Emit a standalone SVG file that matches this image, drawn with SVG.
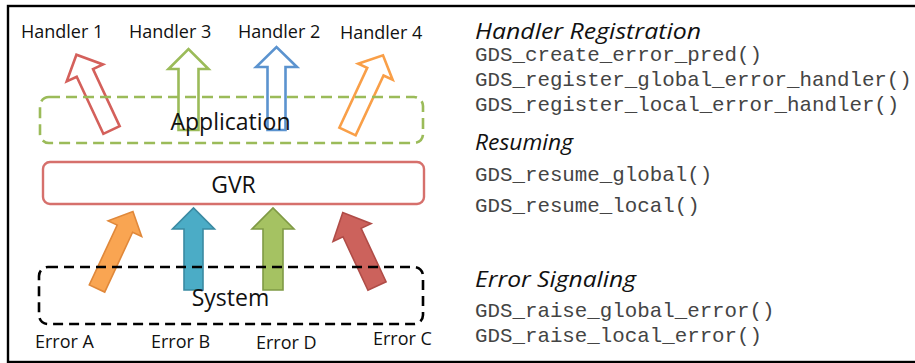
<svg xmlns="http://www.w3.org/2000/svg" width="915" height="363" viewBox="0 0 915 363">
<style>
.lbl{font-family:"Open Sans","Noto Sans",sans-serif;font-size:18px;fill:#111}
.big{font-family:"Open Sans","Noto Sans",sans-serif;font-size:23px;fill:#111;text-anchor:middle}
.hd{font-family:"Open Sans","Noto Sans",sans-serif;font-style:italic;font-size:21.5px;fill:#111}
.mono{font-family:"Liberation Mono","DejaVu Sans Mono",monospace;font-size:20.8px;fill:#444}
.out{fill:none;stroke-width:2.6;stroke-linejoin:miter}
.fil{stroke-width:1.6;stroke-linejoin:miter}
</style>
<rect x="8" y="6" width="920" height="356" fill="#fff" stroke="#000" stroke-width="2.4"/>
<g id="connectors">
  <path class="out" stroke="#d4605b" transform="translate(111.5,130) rotate(-25)" d="M -9,0 V -63 H -20 L 0,-83 L 20,-63 H 9 V 0 Z"/>
  <path class="out" stroke="#9bbb59" transform="translate(188.5,130)" d="M -10,0 V -61 H -20 L 0,-81 L 20,-61 H 10 V 0 Z"/>
  <path class="out" stroke="#5b93cf" transform="translate(276.5,130)" d="M -9,0 V -63 H -20.5 L 0,-83 L 20.5,-63 H 9 V 0 Z"/>
  <path class="out" stroke="#f99f48" transform="translate(347.5,131.5) rotate(25)" d="M -9,0 V -66 H -19 L 0,-84 L 19,-66 H 9 V 0 Z"/>
  <path class="fil" fill="#f9a552" stroke="#e0883a" transform="translate(97,288.5) rotate(25)" d="M -8.5,0 V -66 H -18.5 L 0,-85 L 18.5,-66 H 8.5 V 0 Z"/>
  <path class="fil" fill="#4bacc6" stroke="#3a8aa2" transform="translate(193.5,290)" d="M -9.5,0 V -61 H -21 L 0,-82 L 21,-61 H 9.5 V 0 Z"/>
  <path class="fil" fill="#a5c262" stroke="#7f9a45" transform="translate(273,290)" d="M -10,0 V -61 H -21 L 0,-82 L 21,-61 H 10 V 0 Z"/>
  <path class="fil" fill="#cc625c" stroke="#b04c47" transform="translate(377,286) rotate(-25)" d="M -10,0 V -59 H -21 L 0,-81 L 21,-59 H 10 V 0 Z"/>
</g>
<g id="application">
  <rect x="40" y="97" width="383" height="46" rx="9" fill="none" stroke="#9bbb59" stroke-width="2.6" stroke-dasharray="11 6"/>
  <text class="big" x="230.5" y="130" font-size="23.5">Application</text>
</g>
<g id="gvr">
  <rect x="43" y="162" width="381" height="42" rx="7" fill="none" stroke="#d6706c" stroke-width="2.4"/>
  <text class="big" x="233.5" y="193">GVR</text>
</g>
<g id="system">
  <rect x="39" y="267" width="384" height="57" rx="9" fill="none" stroke="#000" stroke-width="2.6" stroke-dasharray="10 6"/>
  <text class="big" x="230.5" y="306">System</text>
</g>
<g id="handler1"><text class="lbl" x="21" y="38">Handler 1</text></g>
<g id="handler3"><text class="lbl" x="129" y="38">Handler 3</text></g>
<g id="handler2"><text class="lbl" x="238" y="38">Handler 2</text></g>
<g id="handler4"><text class="lbl" x="340" y="39">Handler 4</text></g>
<g id="errorA"><text class="lbl" x="35" y="348">Error A</text></g>
<g id="errorB"><text class="lbl" x="151" y="348">Error B</text></g>
<g id="errorD"><text class="lbl" x="256" y="349">Error D</text></g>
<g id="errorC"><text class="lbl" x="373" y="345">Error C</text></g>
<g id="api">
  <text class="hd" x="475" y="39" textLength="226" lengthAdjust="spacingAndGlyphs">Handler Registration</text>
  <text class="mono" x="475" y="61">GDS_create_error_pred()</text>
  <text class="mono" x="475" y="86">GDS_register_global_error_handler()</text>
  <text class="mono" x="475" y="111">GDS_register_local_error_handler()</text>
  <text class="hd" x="475" y="150" textLength="98" lengthAdjust="spacingAndGlyphs">Resuming</text>
  <text class="mono" x="475" y="181">GDS_resume_global()</text>
  <text class="mono" x="475" y="212">GDS_resume_local()</text>
  <text class="hd" x="475" y="287" textLength="161" lengthAdjust="spacingAndGlyphs">Error Signaling</text>
  <text class="mono" x="475" y="317">GDS_raise_global_error()</text>
  <text class="mono" x="475" y="342">GDS_raise_local_error()</text>
</g>
</svg>
